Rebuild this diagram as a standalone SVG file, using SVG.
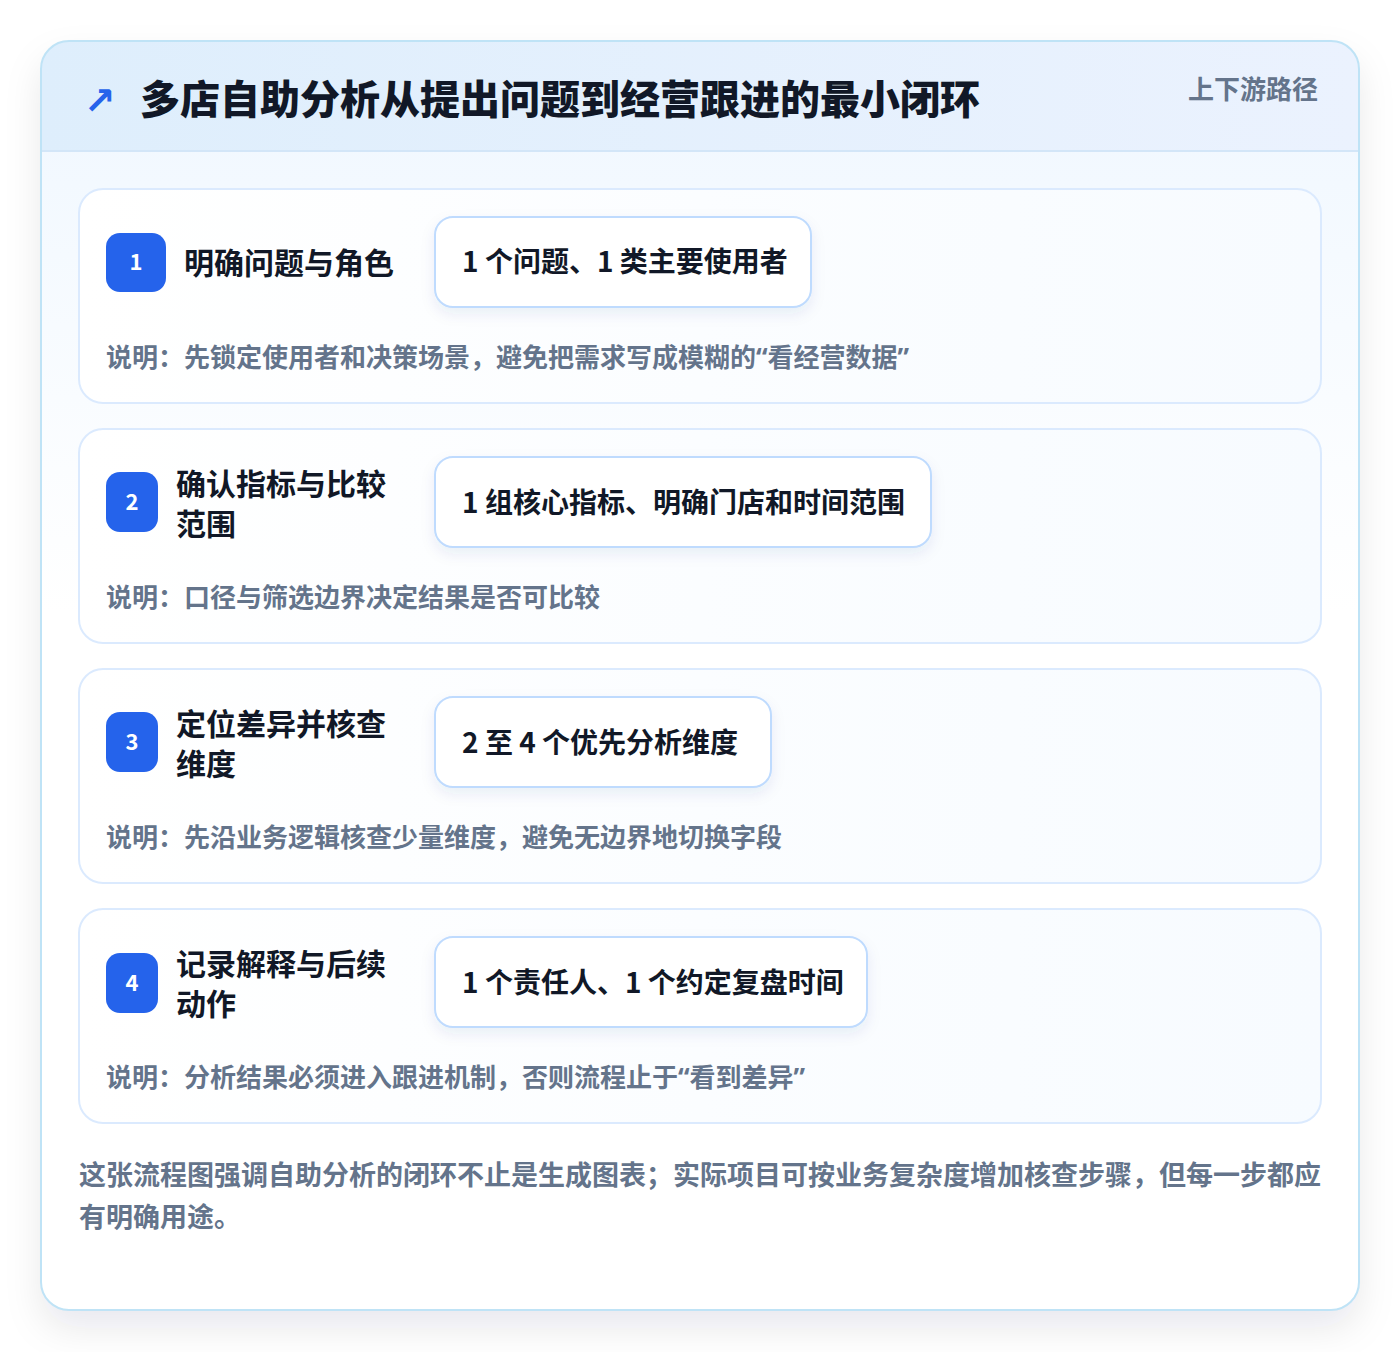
<svg xmlns="http://www.w3.org/2000/svg" width="1400" height="1352" viewBox="0 0 1400 1352">
<defs>
<linearGradient id="hdr" x1="0" y1="0" x2="1" y2="0"><stop offset="0" stop-color="#deeefc"/><stop offset="1" stop-color="#ebf2fe"/></linearGradient>
<linearGradient id="body" x1="0" y1="0" x2="0" y2="1"><stop offset="0" stop-color="#eff7ff"/><stop offset="0.45" stop-color="#ffffff"/><stop offset="1" stop-color="#ffffff"/></linearGradient>
<linearGradient id="card" x1="0" y1="0" x2="1" y2="0"><stop offset="0" stop-color="#ffffff"/><stop offset="1" stop-color="#f7fbff"/></linearGradient>
<clipPath id="outerClip"><rect x="41" y="41" width="1318" height="1269" rx="28"/></clipPath>
<filter id="outerShadow" x="-10%" y="-10%" width="120%" height="125%"><feDropShadow dx="0" dy="18" stdDeviation="18" flood-color="#0f172a" flood-opacity="0.09"/></filter>
<filter id="pillShadow" x="-10%" y="-20%" width="120%" height="160%"><feDropShadow dx="0" dy="6" stdDeviation="7" flood-color="#1e3a8a" flood-opacity="0.08"/></filter>
</defs>
<style>
text{font-family:"Noto Sans CJK SC","Noto Sans",sans-serif;font-weight:700}
.title{font-size:40px;fill:#111827;font-weight:900}
.tag{font-size:26px;fill:#64748b}
.lbl{font-size:30px;fill:#111827}
.pilltxt{font-size:28px;fill:#111827}
.num{font-size:22px;fill:#ffffff;text-anchor:middle}
.desc{font-size:26px;fill:#64748b}
.q{font-family:"Noto Sans",sans-serif}
.foot{font-size:27px;fill:#64748b}
.stepcard{fill:url(#card);stroke:#dbeafe;stroke-width:2}
.badge{fill:#2563eb}
.pill{fill:#ffffff;stroke:#bfdbfe;stroke-width:2}
</style>
<rect width="1400" height="1352" fill="#ffffff"/>
<g id="frame">
<rect x="41" y="41" width="1318" height="1269" rx="28" fill="#ffffff" filter="url(#outerShadow)"/>
<g clip-path="url(#outerClip)">
<rect x="41" y="41" width="1318" height="1269" fill="url(#body)"/>
<rect x="41" y="41" width="1318" height="110" fill="url(#hdr)"/>
<line x1="41" y1="151" x2="1359" y2="151" stroke="#d3e6f8" stroke-width="2"/>
</g>
<rect x="41" y="41" width="1318" height="1269" rx="28" fill="none" stroke="#bfe3f6" stroke-width="2"/>
</g>
<g id="header">
<text x="84" y="114" style="font-family:'DejaVu Sans',sans-serif;font-size:38px;font-weight:700;fill:#2563eb">↗</text>
<text class="title" x="140" y="114">多店自助分析从提出问题到经营跟进的最小闭环</text>
<text class="tag" x="1318" y="99" text-anchor="end">上下游路径</text>
</g>
<g id="connectors"></g>
<g id="step1">
<rect class="stepcard" x="79" y="189" width="1242" height="214" rx="24"/>
<rect class="badge" x="106" y="233" width="60" height="59" rx="14"/>
<text class="num" x="136" y="270">1</text>
<text class="lbl" x="184" y="274">明确问题与角色</text>
<rect class="pill" x="435" y="217" width="376" height="90" rx="18" filter="url(#pillShadow)"/>
<text class="pilltxt" x="462" y="272">1 个问题、1 类主要使用者</text>
<text class="desc" x="106" y="367">说明：先锁定使用者和决策场景，避免把需求写成模糊的<tspan class="q">“</tspan>看经营数据<tspan class="q">”</tspan></text>
</g>
<g id="step2">
<rect class="stepcard" x="79" y="429" width="1242" height="214" rx="24"/>
<rect class="badge" x="106" y="472" width="52" height="60" rx="14"/>
<text class="num" x="132" y="510">2</text>
<text class="lbl" x="176" y="495">确认指标与比较</text>
<text class="lbl" x="176" y="535">范围</text>
<rect class="pill" x="435" y="457" width="496" height="90" rx="18" filter="url(#pillShadow)"/>
<text class="pilltxt" x="462" y="513">1 组核心指标、明确门店和时间范围</text>
<text class="desc" x="106" y="607">说明：口径与筛选边界决定结果是否可比较</text>
</g>
<g id="step3">
<rect class="stepcard" x="79" y="669" width="1242" height="214" rx="24"/>
<rect class="badge" x="106" y="712" width="52" height="60" rx="14"/>
<text class="num" x="132" y="750">3</text>
<text class="lbl" x="176" y="735">定位差异并核查</text>
<text class="lbl" x="176" y="775">维度</text>
<rect class="pill" x="435" y="697" width="336" height="90" rx="18" filter="url(#pillShadow)"/>
<text class="pilltxt" x="462" y="753">2 至 4 个优先分析维度</text>
<text class="desc" x="106" y="847">说明：先沿业务逻辑核查少量维度，避免无边界地切换字段</text>
</g>
<g id="step4">
<rect class="stepcard" x="79" y="909" width="1242" height="214" rx="24"/>
<rect class="badge" x="106" y="953" width="52" height="60" rx="14"/>
<text class="num" x="132" y="991">4</text>
<text class="lbl" x="176" y="975">记录解释与后续</text>
<text class="lbl" x="176" y="1015">动作</text>
<rect class="pill" x="435" y="937" width="432" height="90" rx="18" filter="url(#pillShadow)"/>
<text class="pilltxt" x="462" y="993">1 个责任人、1 个约定复盘时间</text>
<text class="desc" x="106" y="1087">说明：分析结果必须进入跟进机制，否则流程止于<tspan class="q">“</tspan>看到差异<tspan class="q">”</tspan></text>
</g>
<g id="footer">
<text class="foot" x="79" y="1185">这张流程图强调自助分析的闭环不止是生成图表；实际项目可按业务复杂度增加核查步骤，但每一步都应</text>
<text class="foot" x="79" y="1227">有明确用途。</text>
</g>
</svg>
